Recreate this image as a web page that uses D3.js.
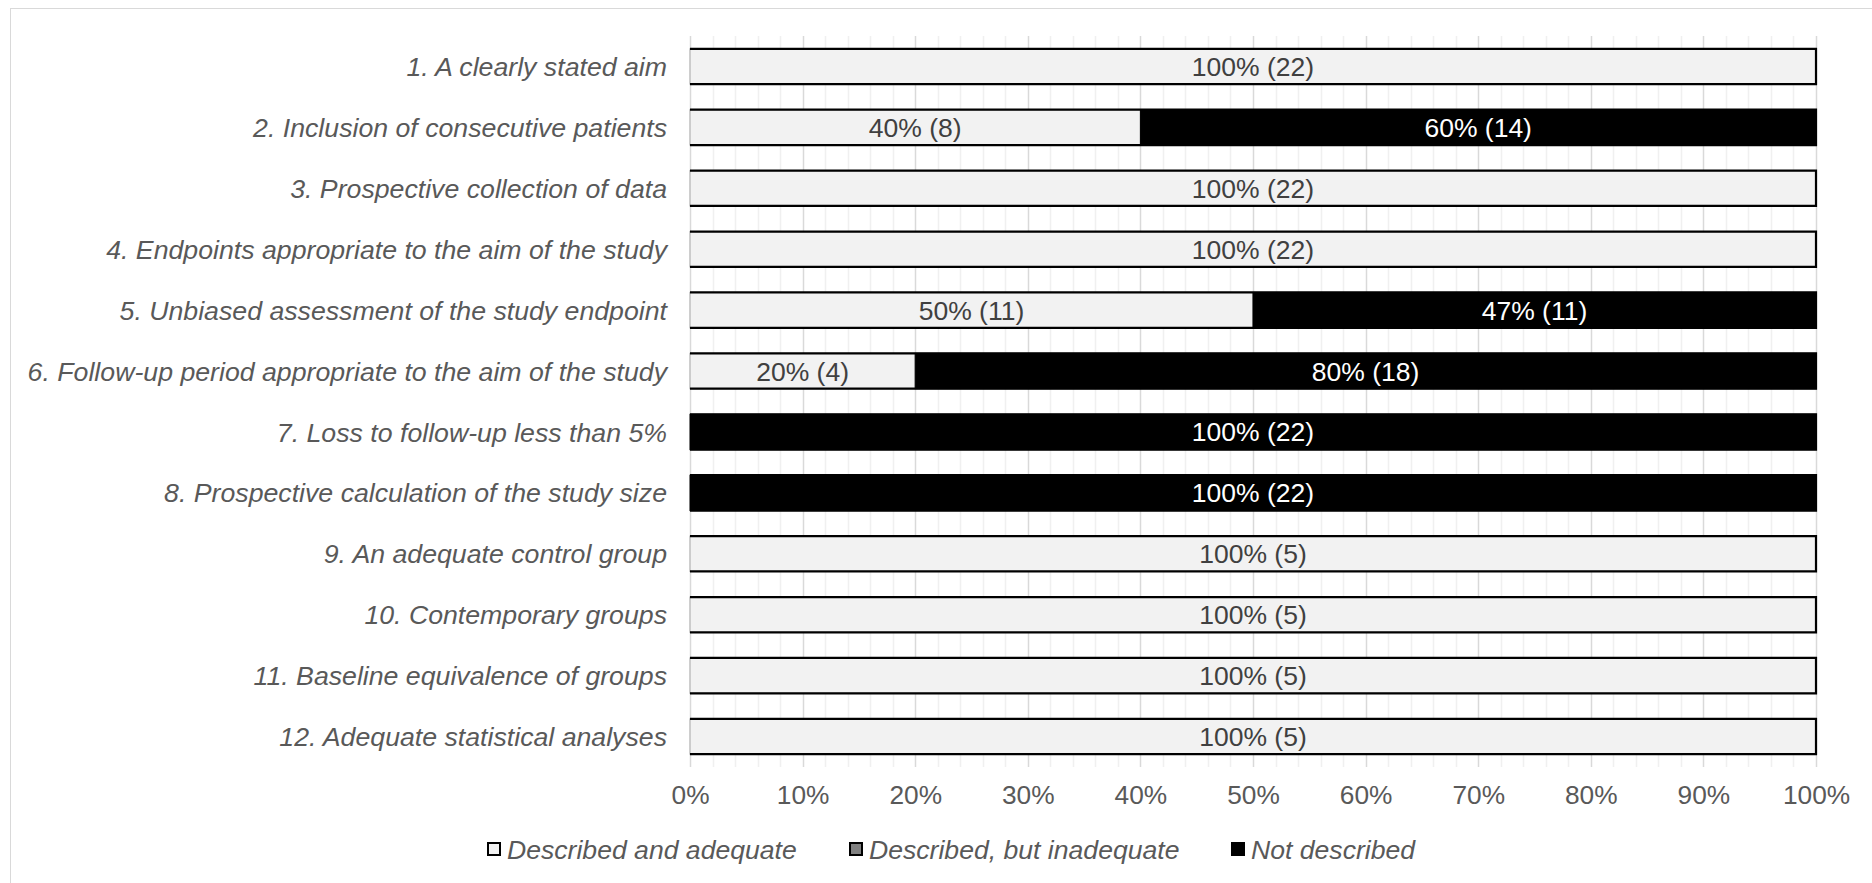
<!DOCTYPE html>
<html>
<head>
<meta charset="utf-8">
<script src="https://cdn.jsdelivr.net/npm/d3@7"></script>
<style>
  html, body { margin: 0; padding: 0; background: #ffffff; }
  svg { display: block; }
  text { font-family: "Liberation Sans", Arial, sans-serif; }
</style>
</head>
<body>
<svg id="chart" width="1872" height="883"></svg>
<script>
// Quality criteria assessed across the included studies
const categories = [
  "1. A clearly stated aim",
  "2. Inclusion of consecutive patients",
  "3. Prospective collection of data",
  "4. Endpoints appropriate to the aim of the study",
  "5. Unbiased assessment of the study endpoint",
  "6. Follow-up period appropriate to the aim of the study",
  "7. Loss to follow-up less than 5%",
  "8. Prospective calculation of the study size",
  "9. An adequate control group",
  "10. Contemporary groups",
  "11. Baseline equivalence of groups",
  "12. Adequate statistical analyses"
];

const seriesNames = ["Described and adequate", "Described, but inadequate", "Not described"];

// Share of studies (%) per rating
const adequate     = [100, 40, 100, 100, 50, 20,   0,   0, 100, 100, 100, 100];
const inadequate   = [  0,  0,   0,   0,  0,  0,   0,   0,   0,   0,   0,   0];
const notDescribed = [  0, 60,   0,   0, 50, 80, 100, 100,   0,   0,   0,   0];

// Data labels as printed on the bars
const adequateLabels     = ["100% (22)", "40% (8)", "100% (22)", "100% (22)", "50% (11)", "20% (4)", "", "", "100% (5)", "100% (5)", "100% (5)", "100% (5)"];
const inadequateLabels   = ["", "", "", "", "", "", "", "", "", "", "", ""];
const notDescribedLabels = ["", "60% (14)", "", "", "47% (11)", "80% (18)", "100% (22)", "100% (22)", "", "", "", ""];

const xTicks = [0, 10, 20, 30, 40, 50, 60, 70, 80, 90, 100];
const minorTicks = d3.range(0, 101, 2);

const fills = ["#f2f2f2", "#808080", "#000000"];
const labelColors = ["#404040", "#ffffff", "#ffffff"];
const textGrey = "#595959";

const svg = d3.select("#chart");

// outer frame
svg.append("rect")
  .attr("x", 10.5).attr("y", 8.5)
  .attr("width", 1900).attr("height", 900)
  .attr("fill", "#ffffff")
  .attr("stroke", "#d9d9d9").attr("stroke-width", 1);

const plotTop = 36, plotBottom = 767;
const x = d3.scaleLinear().domain([0, 100]).range([690, 1816]);
const y = d3.scaleBand().domain(categories).range([plotTop, plotBottom])
  .paddingInner(0.42).paddingOuter(0.21);

// gridlines: minor then major
const grid = svg.append("g");
grid.selectAll("line.minor").data(minorTicks.filter(d => d % 10 !== 0)).join("line")
  .attr("class", "minor")
  .attr("x1", d => Math.round(x(d)) + 0.5).attr("x2", d => Math.round(x(d)) + 0.5)
  .attr("y1", plotTop).attr("y2", plotBottom)
  .attr("stroke", "#f0f0f0").attr("stroke-width", 1.5);
grid.selectAll("line.major").data(xTicks).join("line")
  .attr("class", "major")
  .attr("x1", d => Math.round(x(d)) + 0.5).attr("x2", d => Math.round(x(d)) + 0.5)
  .attr("y1", plotTop).attr("y2", plotBottom)
  .attr("stroke", "#d9d9d9").attr("stroke-width", 1.5);

// stacked rows
const rows = categories.map((c, i) => {
  const vals = [adequate[i], inadequate[i], notDescribed[i]];
  const labs = [adequateLabels[i], inadequateLabels[i], notDescribedLabels[i]];
  let acc = 0;
  const segs = vals.map((v, k) => {
    const s = { k, x0: acc, x1: acc + v, label: labs[k] };
    acc += v;
    return s;
  }).filter(s => s.x1 > s.x0);
  return { cat: c, segs, total: acc };
});

const bars = svg.append("g");
const rowG = bars.selectAll("g.row").data(rows).join("g")
  .attr("class", "row")
  .attr("transform", d => `translate(0,${y(d.cat)})`);

rowG.selectAll("rect.seg").data(d => d.segs).join("rect")
  .attr("class", "seg")
  .attr("x", s => x(s.x0))
  .attr("y", 0)
  .attr("width", s => x(s.x1) - x(s.x0))
  .attr("height", y.bandwidth())
  .attr("fill", s => fills[s.k])
  .attr("stroke", s => s.k === 0 ? "#a6a6a6" : fills[s.k])
  .attr("stroke-width", 1);

// bar outline: top, right and bottom edges
rowG.append("path")
  .attr("d", d => {
    const x0 = x(0), x1 = x(d.total), h = y.bandwidth();
    return `M${x0},0H${x1}V${h}H${x0}`;
  })
  .attr("fill", "none")
  .attr("stroke", "#000").attr("stroke-width", 2.2);

rowG.selectAll("text.val").data(d => d.segs.filter(s => s.label)).join("text")
  .attr("class", "val")
  .attr("x", s => x((s.x0 + s.x1) / 2))
  .attr("y", y.bandwidth() / 2)
  .attr("dy", "0.36em")
  .attr("text-anchor", "middle")
  .attr("font-size", 26.5)
  .attr("fill", s => labelColors[s.k])
  .text(s => s.label);

// category labels
svg.append("g").selectAll("text").data(categories).join("text")
  .attr("x", 667)
  .attr("y", d => y(d) + y.bandwidth() / 2)
  .attr("dy", "0.36em")
  .attr("text-anchor", "end")
  .attr("font-size", 26.7)
  .attr("font-style", "italic")
  .attr("fill", textGrey)
  .text(d => d);

// x axis labels
const xAxis = d3.axisBottom(x).tickValues(xTicks).tickFormat(d => d + "%").tickSize(0).tickPadding(0);
const axG = svg.append("g").attr("transform", `translate(0,${plotBottom})`).call(xAxis);
axG.select(".domain").remove();
axG.selectAll("text")
  .attr("font-size", 26.3)
  .attr("font-family", "Liberation Sans, Arial, sans-serif")
  .attr("fill", textGrey)
  .attr("dy", "1.42em");

// legend
const legendX = [487, 849, 1231];
const lg = svg.append("g").selectAll("g").data(seriesNames).join("g")
  .attr("transform", (d, i) => `translate(${legendX[i]},849)`);
lg.append("rect")
  .attr("x", 1).attr("y", -6)
  .attr("width", 12).attr("height", 12)
  .attr("fill", (d, i) => fills[i])
  .attr("stroke", "#000").attr("stroke-width", 2);
lg.append("text")
  .attr("x", 20).attr("y", 0).attr("dy", "0.36em")
  .attr("font-size", 26.6)
  .attr("font-style", "italic")
  .attr("fill", textGrey)
  .text(d => d);
</script>
</body>
</html>
